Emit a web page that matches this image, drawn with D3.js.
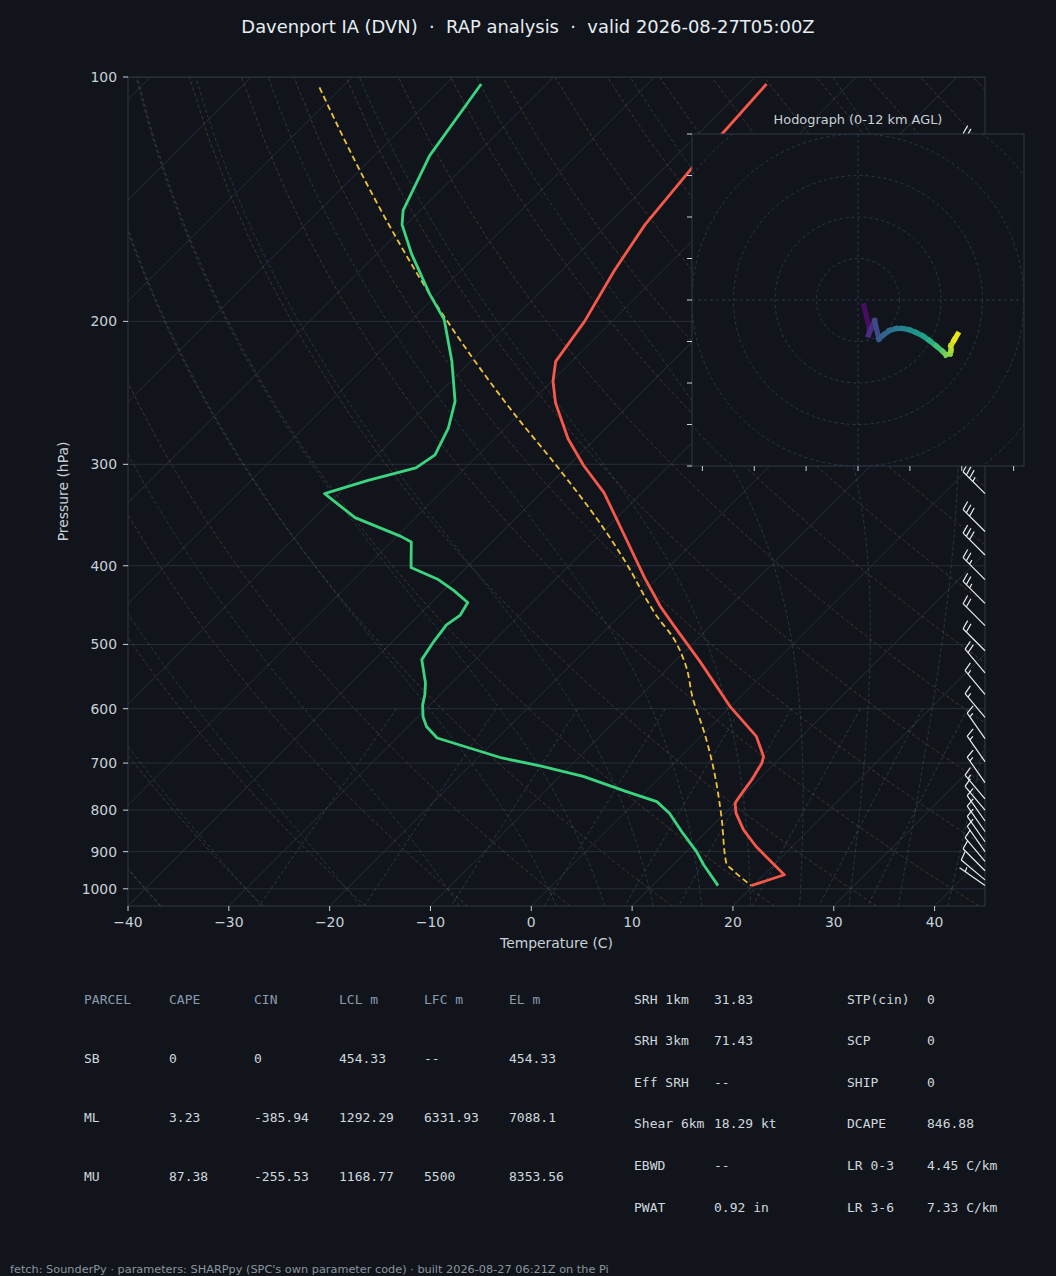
<!DOCTYPE html>
<html>
<head>
<meta charset="utf-8">
<script src="https://cdn.jsdelivr.net/npm/d3@7/dist/d3.min.js"></script>
<style>
  html, body { margin:0; padding:0; background:#11151b; }
  svg { display:block; }
  text { font-family: "DejaVu Sans", sans-serif; }
  .mono { font-family: "DejaVu Sans Mono", monospace; }
</style>
</head>
<body>
<svg id="chart" width="1056" height="1276"></svg>
<script>
// ---------------- data ----------------
const pressureTicks = [100, 200, 300, 400, 500, 600, 700, 800, 900, 1000];
const temperatureTicks = [-40, -30, -20, -10, 0, 10, 20, 30, 40];

// temperature profile (hPa, °C)
const tempP = [102, 129, 152, 173, 200, 224, 237, 252, 279, 301, 325, 370, 414, 449, 473, 525, 596, 649, 687, 700, 731, 770, 784, 807, 846, 887, 930, 961, 991];
const tempC = [-58.2, -57.3, -56.3, -54.8, -52.7, -51.6, -49.9, -47.5, -42.7, -38.5, -33.8, -27.1, -21.3, -16.9, -13.8, -7.5, -0.1, 5.5, 8.2, 8.7, 9.3, 9.8, 10.0, 11.1, 13.5, 16.4, 19.7, 22.0, 19.8];

// dewpoint profile (hPa, °C)
const dewP = [102, 125, 146, 152, 165, 185, 199, 224, 251, 271, 292, 303, 314, 326, 349, 368, 374, 402, 416, 429, 444, 460, 473, 496, 522, 558, 577, 594, 614, 631, 652, 690, 706, 727, 759, 781, 807, 854, 900, 934, 991];
const dewC = [-86.5, -84.5, -81.7, -80.4, -76.6, -70.8, -66.8, -61.9, -57.6, -55.6, -54.3, -54.9, -58.4, -61.4, -56.0, -49.6, -48.0, -45.5, -41.6, -39.0, -36.4, -35.9, -36.3, -35.9, -35.3, -32.6, -31.5, -30.7, -29.5, -28.2, -26.0, -17.6, -12.9, -7.7, -1.9, 2.1, 4.5, 7.8, 11.0, 13.0, 16.5];

// parcel trace (hPa, °C)
const parcelP = [103, 130, 154, 185, 217, 260, 302, 359, 402, 440, 463, 490, 530, 585, 637, 707, 815, 930, 948, 991];
const parcelC = [-102.2, -90.1, -81.0, -70.8, -61.5, -50.5, -41.0, -30.4, -23.9, -19.0, -16.1, -12.6, -8.6, -4.4, -0.4, 4.2, 10.0, 15.1, 16.4, 19.8];

// wind barbs (hPa, direction deg, speed kt)
const barbP   = [991, 975, 950, 925, 900, 875, 850, 825, 800, 775, 740, 697, 653, 615, 576, 542, 509, 474, 445, 416, 388, 363, 326, 300, 270, 245, 220, 195, 170, 150, 125];
const barbDir = [305, 310, 315, 320, 325, 325, 325, 325, 320, 320, 325, 325, 325, 320, 320, 320, 315, 315, 315, 315, 315, 315, 315, 310, 305, 300, 300, 295, 290, 300, 315];
const barbKt  = [5, 10, 10, 10, 10, 10, 10, 10, 10, 15, 15, 15, 15, 15, 15, 20, 20, 20, 25, 25, 30, 30, 35, 35, 30, 30, 25, 25, 25, 25, 25];

// hodograph (kt, km AGL)
const hodoU = [1.44, 2.8, 2.56, 4.0, 5.04, 6.16, 7.6, 9.2, 10.8, 12.4, 14.0, 15.6, 17.2, 18.8, 20.4, 21.2, 22.16, 22.4, 22.4, 23.2, 24.0];
const hodoV = [-1.36, -7.2, -8.4, -4.96, -9.44, -8.4, -7.36, -6.88, -6.88, -7.2, -7.84, -8.64, -9.76, -11.04, -12.4, -13.2, -12.96, -12.16, -11.04, -9.6, -8.24];
const hodoZ = [0, 0.8, 1.2, 2.0, 3.2, 3.6, 4.0, 4.6, 5.1, 5.6, 6.1, 6.6, 7.1, 7.9, 8.8, 9.3, 9.8, 10.2, 10.7, 11.3, 12.0];
const hodoRings = [10, 20, 30, 40, 50];
const hodoYTicks = [-40, -30, -20, -10, 0, 10, 20, 30, 40];
const hodoXTicks = [-37.5, -25, -12.5, 0, 12.5, 25, 37.5];

// parameter tables
const parcelHeader = ["PARCEL", "CAPE", "CIN", "LCL m", "LFC m", "EL m"];
const parcelRowSB = ["SB", "0", "0", "454.33", "--", "454.33"];
const parcelRowML = ["ML", "3.23", "-385.94", "1292.29", "6331.93", "7088.1"];
const parcelRowMU = ["MU", "87.38", "-255.53", "1168.77", "5500", "8353.56"];
const indexLabelsA = ["SRH 1km", "SRH 3km", "Eff SRH", "Shear 6km", "EBWD", "PWAT"];
const indexValuesA = ["31.83", "71.43", "--", "18.29 kt", "--", "0.92 in"];
const indexLabelsB = ["STP(cin)", "SCP", "SHIP", "DCAPE", "LR 0-3", "LR 3-6"];
const indexValuesB = ["0", "0", "0", "846.88", "4.45 C/km", "7.33 C/km"];

const titleText = "Davenport IA (DVN)  \u00b7  RAP analysis  \u00b7  valid 2026-08-27T05:00Z";
const footerText = "fetch: SounderPy \u00b7 parameters: SHARPpy (SPC's own parameter code) \u00b7 built 2026-08-27 06:21Z on the Pi";

// reference line families (°C at 1000 hPa; mixing ratio kg/kg)
const dryAdiabatStarts = d3.range(-40, 250, 10);
const moistAdiabatStarts = [-40, -30, -20, -10, 0, 5, 10, 15, 20, 25, 30, 35, 40, 45];
const mixingRatios = [0.0004, 0.001, 0.002, 0.004, 0.007, 0.01, 0.016, 0.024, 0.032];

// ---------------- styling ----------------
const BG = "#11151b", TEXT = "#c9d1d9", MUTED = "#8b949e", GRID = "#262e39", SPINE = "#2e3846";
const RED = "#f8584a", GREEN = "#3bd47f", YELLOW = "#f0c23b";

const svg = d3.select("#chart");
svg.append("rect").attr("width", 1056).attr("height", 1276).attr("fill", BG);

const L = 128, R = 985, T = 77, B = 906;
const x = d3.scaleLinear().domain([-40, 45]).range([L, R]);
const y = d3.scaleLog().domain([1050, 100]).range([B, T]);
const X = (t, p) => x(t) + (B - y(p));   // 45° skew

const defs = svg.append("defs");
defs.append("clipPath").attr("id", "plotclip").append("rect")
  .attr("x", L).attr("y", T).attr("width", R - L).attr("height", B - T);

const plot = svg.append("g").attr("clip-path", "url(#plotclip)");
const tpLine = d3.line().x(d => X(d[1], d[0])).y(d => y(d[0]));

// horizontal grid
plot.append("g").selectAll("line").data(pressureTicks).join("line")
  .attr("x1", L).attr("x2", R).attr("y1", d => y(d)).attr("y2", d => y(d))
  .attr("stroke", GRID).attr("stroke-width", 1);

// isotherms
plot.append("g").selectAll("line").data(d3.range(-130, 50, 10)).join("line")
  .attr("x1", d => X(d, 1050)).attr("y1", B).attr("x2", d => X(d, 100)).attr("y2", T)
  .attr("stroke", GRID).attr("stroke-width", 1);

// thermodynamics
const Rd = 287.04749, Cp = 1005.7, Lv = 2.50084e6, eps = 0.6219569, kappa = 0.28571;
const esat = Tk => { const tc = Tk - 273.15; return 6.112 * Math.exp(17.67 * tc / (tc + 243.5)); };
const rsat = (p, Tk) => { const e = esat(Tk); return eps * e / (p - e); };
const dTdp = (p, Tk) => { const r = rsat(p, Tk); return ((Rd * Tk + Lv * r) / (Cp + Lv * Lv * r * eps / (Rd * Tk * Tk))) / p; };
function rk4(p0, T0, p1) {
  const n = 10, h = (p1 - p0) / n; let p = p0, t = T0;
  for (let i = 0; i < n; i++) {
    const k1 = dTdp(p, t), k2 = dTdp(p + h / 2, t + h * k1 / 2), k3 = dTdp(p + h / 2, t + h * k2 / 2), k4 = dTdp(p + h, t + h * k3);
    t += h * (k1 + 2 * k2 + 2 * k3 + k4) / 6; p += h;
  }
  return t;
}
const pFull = d3.range(0, 50).map(i => 1050 + (100 - 1050) * i / 49);

// dry adiabats
const dryLines = dryAdiabatStarts.map(t0 => pFull.map(p => [p, (t0 + 273.15) * Math.pow(p / 1000, kappa) - 273.15]));
plot.append("g").selectAll("path").data(dryLines).join("path")
  .attr("d", tpLine).attr("fill", "none").attr("stroke", "#c08a4a").attr("stroke-opacity", 0.3)
  .attr("stroke-width", 0.9).attr("stroke-dasharray", "3.5,2.5");

// moist adiabats
const moistLines = moistAdiabatStarts.map(t0 => {
  const pts = [];
  const up = d3.range(1000, 95, -10);
  let t = t0 + 273.15;
  let prev = 1000;
  const lo = [[1050, rk4(1000, t0 + 273.15, 1050) - 273.15]];
  for (const p of up) { if (p !== prev) { t = rk4(prev, t, p); prev = p; } pts.push([p, t - 273.15]); }
  return lo.concat(pts);
});
plot.append("g").selectAll("path").data(moistLines).join("path")
  .attr("d", tpLine).attr("fill", "none").attr("stroke", "#4fa3b5").attr("stroke-opacity", 0.28)
  .attr("stroke-width", 0.9).attr("stroke-dasharray", "3.5,2.5");

// mixing ratio lines
const pMix = d3.range(0, 50).map(i => 600 + (1050 - 600) * i / 49);
const mixLines = mixingRatios.map(w => pMix.map(p => {
  const e = p * w / (eps + w); const l = Math.log(e / 6.112);
  return [p, 243.5 * l / (17.67 - l)];
}));
plot.append("g").selectAll("path").data(mixLines).join("path")
  .attr("d", tpLine).attr("fill", "none").attr("stroke", "#7090b8").attr("stroke-opacity", 0.3)
  .attr("stroke-width", 0.9).attr("stroke-dasharray", "3.5,2.5");

// profiles
const zip = (a, b) => a.map((v, i) => [v, b[i]]);
const smooth = d3.line().x(d => X(d[1], d[0])).y(d => y(d[0])).curve(d3.curveMonotoneY);
plot.append("path").datum(zip(parcelP, parcelC)).attr("d", smooth).attr("fill", "none")
  .attr("stroke", YELLOW).attr("stroke-width", 1.8).attr("stroke-dasharray", "6,3.5");
plot.append("path").datum(zip(tempP, tempC)).attr("d", tpLine).attr("fill", "none")
  .attr("stroke", RED).attr("stroke-width", 2.8).attr("stroke-linejoin", "round");
plot.append("path").datum(zip(dewP, dewC)).attr("d", tpLine).attr("fill", "none")
  .attr("stroke", GREEN).attr("stroke-width", 2.8).attr("stroke-linejoin", "round");

// spines
svg.append("rect").attr("x", L).attr("y", T).attr("width", R - L).attr("height", B - T)
  .attr("fill", "none").attr("stroke", SPINE).attr("stroke-width", 1);

// axes ticks
const yAxis = svg.append("g");
yAxis.selectAll("line").data(pressureTicks).join("line")
  .attr("x1", L - 5).attr("x2", L).attr("y1", d => y(d)).attr("y2", d => y(d))
  .attr("stroke", TEXT).attr("stroke-width", 1);
yAxis.selectAll("text").data(pressureTicks).join("text")
  .attr("x", L - 11).attr("y", d => y(d)).attr("dy", "0.35em").attr("text-anchor", "end")
  .attr("fill", TEXT).attr("font-size", 13.9).text(d => d);
const xAxis = svg.append("g");
xAxis.selectAll("line").data(temperatureTicks).join("line")
  .attr("x1", d => x(d)).attr("x2", d => x(d)).attr("y1", B).attr("y2", B + 5)
  .attr("stroke", TEXT).attr("stroke-width", 1);
xAxis.selectAll("text").data(temperatureTicks).join("text")
  .attr("x", d => x(d)).attr("y", B + 21).attr("text-anchor", "middle")
  .attr("fill", TEXT).attr("font-size", 13.9).text(d => d < 0 ? "\u2212" + Math.abs(d) : d);
svg.append("text").attr("x", (L + R) / 2).attr("y", 948).attr("text-anchor", "middle")
  .attr("fill", TEXT).attr("font-size", 13.9).text("Temperature (C)");
svg.append("text").attr("transform", `translate(68,${(T + B) / 2}) rotate(-90)`).attr("text-anchor", "middle")
  .attr("fill", TEXT).attr("font-size", 13.9).text("Pressure (hPa)");

// title
svg.append("text").attr("x", 528).attr("y", 33).attr("text-anchor", "middle")
  .attr("fill", "#e6edf3").attr("font-size", 17.9).style("white-space", "pre").text(titleText);

// wind barbs
function barbPath(bx, by, dir, spd) {
  const th = dir * Math.PI / 180;
  const tx = Math.sin(th), ty = -Math.cos(th);
  const nx = Math.cos(th), ny = Math.sin(th);
  const Ls = 31, sp = 4.6, fh = 9, fw = 2.5;
  let s = Math.round(spd / 5) * 5;
  const flags = Math.floor(s / 50); s -= flags * 50;
  const full = Math.floor(s / 10); s -= full * 10;
  const half = s >= 5;
  const P = o => [bx + o * tx, by + o * ty];
  let d = `M${bx},${by}L${P(Ls)[0]},${P(Ls)[1]}`;
  let off = Ls;
  for (let i = 0; i < flags; i++) {
    const a = P(off), c = P(off - 5), m = P(off - 2.5);
    d += `M${a[0]},${a[1]}L${m[0] + fh * nx},${m[1] + fh * ny}L${c[0]},${c[1]}`;
    off -= 5 + sp;
  }
  for (let i = 0; i < full; i++) {
    const a = P(off), e = P(off + fw);
    d += `M${a[0]},${a[1]}L${e[0] + fh * nx},${e[1] + fh * ny}`;
    off -= sp;
  }
  if (half) {
    if (off === Ls) off -= 1.5 * sp;
    const a = P(off), e = P(off + fw / 2);
    d += `M${a[0]},${a[1]}L${e[0] + fh / 2 * nx},${e[1] + fh / 2 * ny}`;
  }
  return d;
}
svg.append("g").selectAll("path").data(barbP.map((p, i) => ({ p, dir: barbDir[i], kt: barbKt[i] }))).join("path")
  .attr("d", d => barbPath(R, y(d.p), d.dir, d.kt))
  .attr("fill", "none").attr("stroke", "#e6edf3").attr("stroke-width", 1.2).attr("stroke-linejoin", "miter");

// hodograph inset
const hx = d3.scaleLinear().domain([-40, 40]).range([692, 1024]);
const hy = d3.scaleLinear().domain([-40, 40]).range([466, 134]);
const hodo = svg.append("g");
hodo.append("rect").attr("x", 692).attr("y", 134).attr("width", 332).attr("height", 332).attr("fill", BG);
defs.append("clipPath").attr("id", "hodoclip").append("rect").attr("x", 692).attr("y", 134).attr("width", 332).attr("height", 332);
const hin = hodo.append("g").attr("clip-path", "url(#hodoclip)");
hin.selectAll("circle").data(hodoRings).join("circle")
  .attr("cx", hx(0)).attr("cy", hy(0)).attr("r", d => hx(d) - hx(0))
  .attr("fill", "none").attr("stroke", "#2c3646").attr("stroke-width", 1).attr("stroke-dasharray", "3,3");
hin.append("line").attr("x1", 692).attr("x2", 1024).attr("y1", hy(0)).attr("y2", hy(0))
  .attr("stroke", "#2c3646").attr("stroke-dasharray", "3,3");
hin.append("line").attr("y1", 134).attr("y2", 466).attr("x1", hx(0)).attr("x2", hx(0))
  .attr("stroke", "#2c3646").attr("stroke-dasharray", "3,3");
const hodoPts = hodoU.map((u, i) => ({ u, v: hodoV[i], z: hodoZ[i] }));
const segs = hodoPts.slice(1).map((d, i) => ({ a: hodoPts[i], b: d }));
hin.selectAll("line.seg").data(segs).join("line").attr("class", "seg")
  .attr("x1", d => hx(d.a.u)).attr("y1", d => hy(d.a.v)).attr("x2", d => hx(d.b.u)).attr("y2", d => hy(d.b.v))
  .attr("stroke", d => d3.interpolateViridis(((d.a.z + d.b.z) / 2) / 12))
  .attr("stroke-width", 5.2).attr("stroke-linecap", "square");
hodo.append("rect").attr("x", 692).attr("y", 134).attr("width", 332).attr("height", 332)
  .attr("fill", "none").attr("stroke", SPINE).attr("stroke-width", 1);
hodo.selectAll("line.yt").data(hodoYTicks).join("line").attr("class", "yt")
  .attr("x1", 687).attr("x2", 692).attr("y1", d => hy(d)).attr("y2", d => hy(d)).attr("stroke", TEXT);
hodo.selectAll("line.xt").data(hodoXTicks).join("line").attr("class", "xt")
  .attr("x1", d => hx(d)).attr("x2", d => hx(d)).attr("y1", 466).attr("y2", 471).attr("stroke", TEXT);
hodo.append("text").attr("x", 858).attr("y", 124).attr("text-anchor", "middle")
  .attr("fill", TEXT).attr("font-size", 12.9).text("Hodograph (0-12 km AGL)");

// parameter tables
const colX = [84, 169, 254, 339, 424, 509];
const tbl = svg.append("g").attr("class", "mono");
tbl.selectAll("text.h").data(parcelHeader).join("text").attr("class", "h mono")
  .attr("x", (d, i) => colX[i]).attr("y", 999).attr("dy", "0.35em")
  .attr("fill", "#8b9aae").attr("font-size", 13).text(d => d);
[parcelRowSB, parcelRowML, parcelRowMU].forEach((row, r) => {
  tbl.selectAll(null).data(row).join("text").attr("class", "mono")
    .attr("x", (d, i) => colX[i]).attr("y", 1058 + r * 59).attr("dy", "0.35em")
    .attr("fill", "#d0d7de").attr("font-size", 13).text(d => d);
});
const rowY = i => 999 + i * 41.6;
const putCol = (arr, xx) => tbl.selectAll(null).data(arr).join("text").attr("class", "mono")
  .attr("x", xx).attr("y", (d, i) => rowY(i)).attr("dy", "0.35em")
  .attr("fill", "#d0d7de").attr("font-size", 13).text(d => d);
putCol(indexLabelsA, 634); putCol(indexValuesA, 714);
putCol(indexLabelsB, 847); putCol(indexValuesB, 927);

// footer
svg.append("text").attr("x", 10).attr("y", 1273).attr("fill", MUTED).attr("font-size", 11.3).text(footerText);
</script>
</body>
</html>
